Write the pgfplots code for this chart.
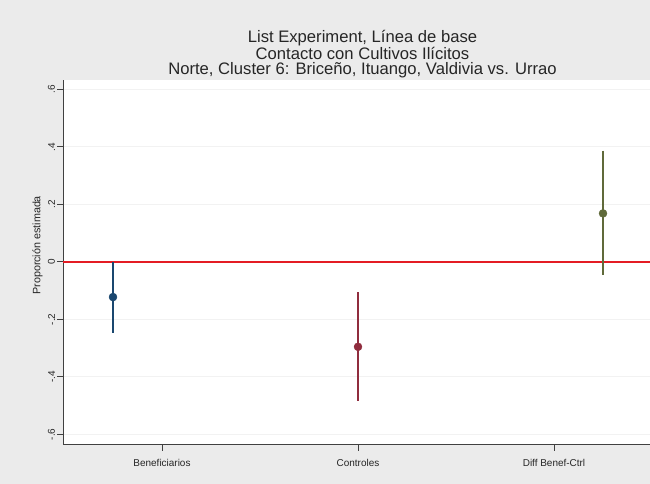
\documentclass[border=0pt]{standalone}
\usepackage{pgfplots}
\pgfplotsset{compat=1.18}
\usepackage{fontspec}
\setmainfont{Liberation Sans}
\definecolor{bgc}{RGB}{235,235,235}
\definecolor{stnavy}{RGB}{26,71,111}
\definecolor{stmaroon}{RGB}{144,45,62}
\definecolor{stolive}{RGB}{96,106,58}
\definecolor{stred}{RGB}{228,28,36}
\begin{document}
\begin{tikzpicture}[x=1bp,y=1bp]
\useasboundingbox (0,0) rectangle (650,484);
\fill[bgc] (0,0) rectangle (650,484);
\begin{axis}[
  at={(63bp,39bp)}, anchor=south west,
  scale only axis, width=587bp, height=365bp,
  xmin=0.7959184, xmax=3.1918367, ymin=-0.63652, ymax=0.63304,
  axis x line*=bottom, axis y line*=left,
  axis line style={-, color=black!75, line width=1bp},
  axis background/.style={fill=white},
  xtick={1.2,2,2.8},
  xticklabels={Beneficiarios,Controles,Diff Benef-Ctrl},
  ytick={-0.6,-0.4,-0.2,0,0.2,0.4,0.6},
  yticklabels={-.6,-.4,-.2,0,.2,.4,.6},
  /pgf/number format/assume math mode=true,
  tick align=outside, major tick length=6bp,
  tick style={color=black!75, line width=1bp},
  xticklabel style={font=\fontsize{10}{11}\selectfont, text=black!85, yshift=-5bp},
  yticklabel style={font=\fontsize{10}{11}\selectfont, rotate=90, anchor=south, text=black!85, inner sep=1.8bp},
  ymajorgrids, grid style={color=black!5, line width=1bp},
  ylabel={Proporción estimada},
  ylabel style={at={(ticklabel cs:0.547)}, font=\fontsize{10.8}{12}\selectfont, text=black!85},
  title={List Experiment, Línea de base\\Contacto con Cultivos Ilícitos\\Norte, Cluster 6: Briceño, Ituango, Valdivia vs. Urrao},
  title style={font=\fontsize{16.7}{15.5}\selectfont, align=center, text=black!85, xshift=6bp, yshift=-7.5bp},
  clip=false,
]
% zero line
\addplot[stred, line width=2bp, no marks] coordinates {(0.7959184,0) (3.1918367,0)};
% confidence intervals
\addplot[stnavy, line width=2bp, no marks] coordinates {(1,0.0) (1,-0.248)};
\addplot[stmaroon, line width=2bp, no marks] coordinates {(2,-0.105) (2,-0.482)};
\addplot[stolive, line width=2bp, no marks] coordinates {(3,0.387) (3,-0.045)};
% point estimates
\addplot[stnavy, only marks, mark=*, mark size=4bp] coordinates {(1,-0.122)};
\addplot[stmaroon, only marks, mark=*, mark size=4bp] coordinates {(2,-0.295)};
\addplot[stolive, only marks, mark=*, mark size=4bp] coordinates {(3,0.169)};
\end{axis}
\end{tikzpicture}
\end{document}
